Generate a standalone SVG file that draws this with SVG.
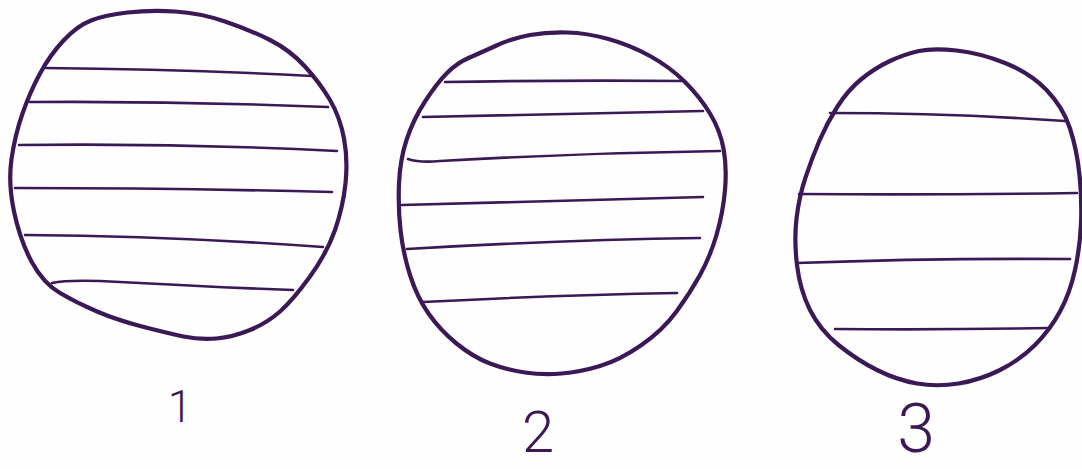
<svg xmlns="http://www.w3.org/2000/svg" width="1082" height="469" viewBox="0 0 1082 469">
<style>
.outline{fill:none;stroke:#3b1856;stroke-width:4.2;stroke-linejoin:round;stroke-linecap:round}
.stripe{fill:none;stroke:#3b1856;stroke-width:2.6;stroke-linecap:round}
.label{font-family:Roboto,"Liberation Sans",sans-serif;font-weight:300;fill:#3b1856;text-anchor:middle}
</style>
<rect width="1082" height="469" fill="#fefefe"/>
<g id="circle1">
<path class="outline" d="M 127.5,12.5 Q 150,10 175,11.5 Q 200,13 225,21.5 Q 250,30 270,40 Q 290,50 305,66.5 Q 320,83 330,100 Q 340,117 344,138.5 Q 348,160 345.5,183.5 Q 343,207 335,230 Q 327,253 310,276.5 Q 293,300 280,311.5 Q 267,323 250,330 Q 233,337 216.5,338.5 Q 200,340 183.5,336.5 Q 167,333 142,326.5 Q 117,320 97,311.5 Q 77,303 60,293 Q 43,283 31.5,261.5 Q 20,240 14,211.5 Q 8,183 11.5,159 Q 15,135 22.5,113.5 Q 30,92 40,73.5 Q 50,55 63.5,40.5 Q 77,26 91,20.5 Q 105,15 127.5,12.5 Z"/>
<path class="stripe" d="M 45,68 Q 180,69 312,76"/>
<path class="stripe" d="M 30,102 Q 180,101 328,107"/>
<path class="stripe" d="M 19,145 Q 180,143 337,151"/>
<path class="stripe" d="M 15,188 Q 170,188 332,192"/>
<path class="stripe" d="M 25,235 Q 170,236 323,247"/>
<path class="stripe" d="M 52,283 Q 70,279 120,282 Q 210,287 293,290"/>
<text class="label" x="180" y="422" font-size="44">1</text>
</g>
<g id="circle2">
<path class="outline" d="M 496.5,45.5 Q 513,38 530,35 Q 547,32 567,32.5 Q 587,33 608.5,39 Q 630,45 650,56 Q 670,67 685,82 Q 700,97 710,113.5 Q 720,130 723.5,148.5 Q 727,167 725,190 Q 723,213 716.5,235 Q 710,257 700,275 Q 690,293 676.5,311.5 Q 663,330 641.5,345 Q 620,360 600,366 Q 580,372 561.5,373.5 Q 543,375 525,372.5 Q 507,370 490,363.5 Q 473,357 456.5,343.5 Q 440,330 428.5,313.5 Q 417,297 410,275 Q 403,253 400.5,230 Q 398,207 399,183.5 Q 400,160 406.5,140 Q 413,120 425,101.5 Q 437,83 447,73 Q 457,63 468.5,58 Q 480,53 496.5,45.5 Z"/>
<path class="stripe" d="M 469,58 L 481,53"/>
<path class="stripe" d="M 445,82 Q 560,80 685,81"/>
<path class="stripe" d="M 423,117 Q 560,114 703,111"/>
<path class="stripe" d="M 408,159 Q 420,163 440,161 Q 580,153 720,151"/>
<path class="stripe" d="M 402,205 Q 550,201 703,197"/>
<path class="stripe" d="M 407,249 Q 560,240 700,238"/>
<path class="stripe" d="M 423,302 Q 560,295 677,293"/>
<text class="label" x="538" y="452" font-size="58">2</text>
</g>
<g id="circle3">
<path class="outline" d="M 956.5,50.5 Q 980,53 1005,63 Q 1030,73 1046.5,90 Q 1063,107 1070,128.5 Q 1077,150 1079.5,175 Q 1082,200 1081,223.5 Q 1080,247 1075,270 Q 1070,293 1060,311.5 Q 1050,330 1035,345 Q 1020,360 1000,370 Q 980,380 958.5,383.5 Q 937,387 917,383.5 Q 897,380 877,370 Q 857,360 838.5,345 Q 820,330 810,310 Q 800,290 797,265 Q 794,240 796.5,218.5 Q 799,197 805.5,177.5 Q 812,158 819.5,140.5 Q 827,123 837.5,106.5 Q 848,90 861.5,79 Q 875,68 890,61 Q 905,54 919,51 Q 933,48 956.5,50.5 Z"/>
<path class="stripe" d="M 830,113 Q 950,113 1065,121"/>
<path class="stripe" d="M 799,194 Q 940,195 1077,193"/>
<path class="stripe" d="M 797,263 Q 930,258 1070,259"/>
<path class="stripe" d="M 835,329 Q 940,330 1050,328"/>
<text class="label" x="916" y="452" font-size="68">3</text>
</g>
</svg>
